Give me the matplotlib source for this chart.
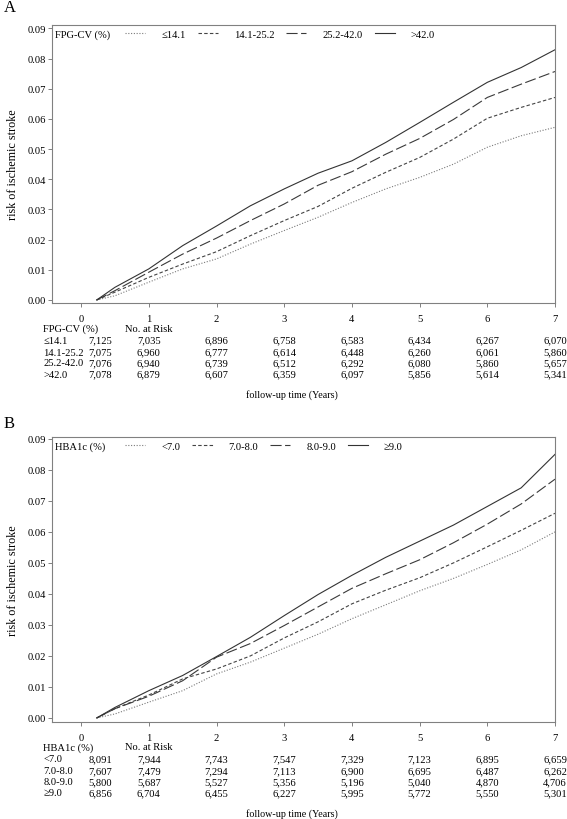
import matplotlib
matplotlib.use("Agg")
import matplotlib.pyplot as plt
from matplotlib.lines import Line2D

plt.rcParams['font.family'] = ['Liberation Serif', 'DejaVu Serif']
plt.rcParams['lines.scale_dashes'] = False

# ---- data ----
years = [0.23, 0.5, 1, 1.5, 2, 2.5, 3, 3.5, 4, 4.5, 5, 5.5, 6, 6.5, 7]

fpg_labels = ['≤14.1', '14.1-25.2', '25.2-42.0', '>42.0']
fpg_risk = [
    [0, 0.0014, 0.0059, 0.0103, 0.0136, 0.0185, 0.0230, 0.0274, 0.0323, 0.0368, 0.0406, 0.0450, 0.0506, 0.0544, 0.0572],
    [0, 0.0026, 0.0075, 0.0119, 0.0160, 0.0213, 0.0263, 0.0310, 0.0370, 0.0423, 0.0472, 0.0533, 0.0602, 0.0638, 0.0671],
    [0, 0.0031, 0.0092, 0.0152, 0.0205, 0.0263, 0.0318, 0.0380, 0.0425, 0.0483, 0.0535, 0.0598, 0.0671, 0.0715, 0.0757],
    [0, 0.0042, 0.0103, 0.0180, 0.0245, 0.0312, 0.0368, 0.0420, 0.0461, 0.0522, 0.0588, 0.0655, 0.0721, 0.0770, 0.0829],
]
fpg_atrisk = [
    ['7,125', '7,035', '6,896', '6,758', '6,583', '6,434', '6,267', '6,070'],
    ['7,075', '6,960', '6,777', '6,614', '6,448', '6,260', '6,061', '5,860'],
    ['7,076', '6,940', '6,739', '6,512', '6,292', '6,080', '5,860', '5,657'],
    ['7,078', '6,879', '6,607', '6,359', '6,097', '5,856', '5,614', '5,341'],
]

hba_labels = ['<7.0', '7.0-8.0', '8.0-9.0', '≥9.0']
hba_risk = [
    [0, 0.0013, 0.0051, 0.0088, 0.0142, 0.0180, 0.0225, 0.0270, 0.0320, 0.0365, 0.0410, 0.0450, 0.0495, 0.0542, 0.0600],
    [0, 0.0030, 0.0074, 0.0126, 0.0158, 0.0200, 0.0258, 0.0310, 0.0368, 0.0412, 0.0452, 0.0500, 0.0552, 0.0605, 0.0660],
    [0, 0.0030, 0.0070, 0.0120, 0.0196, 0.0240, 0.0298, 0.0358, 0.0418, 0.0465, 0.0510, 0.0565, 0.0625, 0.0690, 0.0770],
    [0, 0.0034, 0.0088, 0.0137, 0.0198, 0.0260, 0.0330, 0.0398, 0.0460, 0.0518, 0.0570, 0.0622, 0.0682, 0.0742, 0.0850],
]
hba_atrisk = [
    ['8,091', '7,944', '7,743', '7,547', '7,329', '7,123', '6,895', '6,659'],
    ['7,607', '7,479', '7,294', '7,113', '6,900', '6,695', '6,487', '6,262'],
    ['5,800', '5,687', '5,527', '5,356', '5,196', '5,040', '4,870', '4,706'],
    ['6,856', '6,704', '6,455', '6,227', '5,995', '5,772', '5,550', '5,301'],
]

table_years = [0, 1, 2, 3, 4, 5, 6, 7]

# line styles: dotted, short dash, long dash, solid
styles = [(0, (0.8, 1.2)), (0, (2.5, 1.6)), (0, (8, 2.5)), '-']
colors = ['#7a7a7a', '#444444', '#3a3a3a', '#333333']

W, H = 567, 820
fig = plt.figure(figsize=(W / 100, H / 100), dpi=100)
fs = 7.6


def panel(rect_px, ylim, letter, letter_y, group, labels, risk, atrisk):
    left, top, right, bottom = rect_px
    ax = fig.add_axes([left / W, 1 - bottom / H, (right - left) / W, (bottom - top) / H])
    ah = bottom - top

    for i in range(4):
        ax.plot(years, risk[i], linestyle=styles[i], color=colors[i], lw=0.8, label=labels[i])

    ax.set_xlim(-0.43, 7)
    ax.set_ylim(*ylim)
    ax.set_xticks(range(8))
    ax.set_yticks([i / 100 for i in range(10)])
    ax.set_yticklabels(['%.2f' % (i / 100) for i in range(10)])
    ax.tick_params(direction='out', length=3, width=0.7, color='#808080',
                   labelsize=fs, pad=1.5)
    ax.tick_params(axis='x', pad=5)
    for s in ax.spines.values():
        s.set_color('#808080')
        s.set_linewidth(0.8)

    ax.text(-39 / 503, 0.5, 'risk of ischemic stroke', transform=ax.transAxes,
            rotation=90, ha='center', va='center', fontsize=8.7)

    # legend
    ax.text(0.006, 1 - 9 / ah, group, transform=ax.transAxes, ha='left', va='center', fontsize=fs)
    handles = [Line2D([], [], linestyle=styles[i], color=colors[i], lw=0.8) for i in range(4)]
    ax.legend(handles, labels, ncol=4, loc='center left', bbox_to_anchor=(0.146, 1 - 9 / ah),
              frameon=False, fontsize=fs, handlelength=1.9, handletextpad=1.5,
              columnspacing=1.15, borderpad=0, borderaxespad=0)

    fig.text(4 / W, 1 - letter_y / H, letter, fontsize=12, ha='left', va='center')

    # number at risk table
    tr = ax.get_xaxis_transform()
    rows_dy = [37, 49, 60, 71]
    ax.text(-0.56, -25 / ah, group, transform=tr, ha='left', va='center', fontsize=fs)
    ax.text(1, -25 / ah, 'No. at Risk', transform=tr, ha='center', va='center', fontsize=fs)
    for r in range(4):
        y = -rows_dy[r] / ah
        ax.text(-0.56, y, labels[r], transform=tr, ha='left', va='center', fontsize=fs)
        for j, t in enumerate(table_years):
            if t == 0:
                ax.text(0.46, y, atrisk[r][j], transform=tr, ha='right', va='center', fontsize=fs)
            else:
                ax.text(t, y, atrisk[r][j], transform=tr, ha='center', va='center', fontsize=fs)
    ax.text(0.477, -91 / ah, 'follow-up time (Years)', transform=ax.transAxes,
            ha='center', va='center', fontsize=7.2)
    return ax


panel((52, 26, 555, 304), (-0.001, 0.0911), 'A', 8, 'FPG-CV (%)', fpg_labels, fpg_risk, fpg_atrisk)
panel((52, 438, 555, 723), (-0.0013, 0.0906), 'B', 424, 'HBA1c (%)', hba_labels, hba_risk, hba_atrisk)

fig.savefig('out.png', dpi=100)
